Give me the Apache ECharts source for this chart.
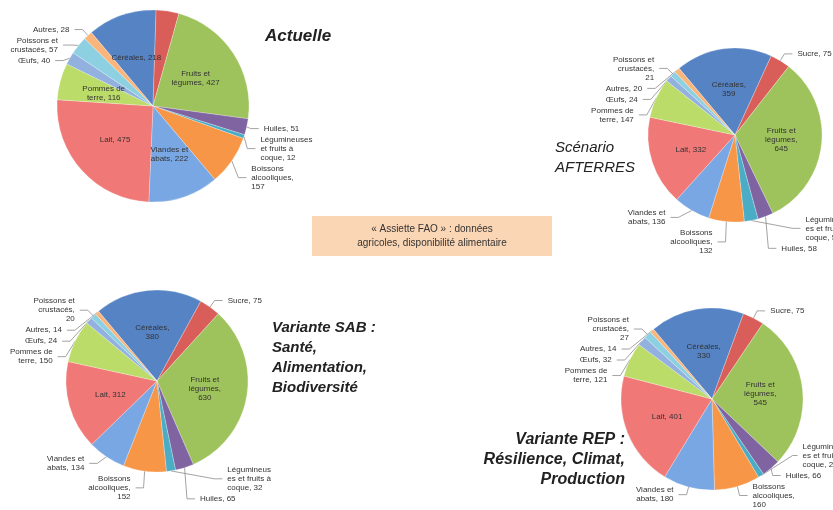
<!DOCTYPE html>
<html><head><meta charset="utf-8">
<script src="https://cdn.jsdelivr.net/npm/echarts@6/dist/echarts.min.js"></script>
<style>html,body{margin:0;padding:0;background:#fff}#c{width:833px;height:510px}</style>
</head><body><div id="c"></div>
<script>
// Categories (clockwise from the first slice)
const categories = ['Céréales','Sucre','Fruits et légumes','Huiles','Légumineuses et fruits à coque','Boissons alcooliques','Viandes et abats','Lait','Pommes de terre','Œufs','Poissons et crustacés','Autres'];
// Values (g / personne / jour)
const actuelle = [218, 72, 427, 51, 12, 157, 222, 475, 116, 40, 57, 28];
const afterres = [359, 75, 645, 58, 51, 132, 136, 332, 147, 24, 21, 20];
const sab      = [380, 75, 630, 65, 32, 152, 134, 312, 150, 24, 20, 14];
const rep      = [330, 75, 545, 66, 20, 160, 180, 401, 121, 32, 27, 14];

const colors = ['#5583c4','#d95e5a','#9fc35c','#8064a2','#4bacc6','#f79646','#79a7e3','#f07877','#bcdc6a','#93b1df','#8cd0e2','#f9b57c'];

// label layouts: [text template, position]
const T = {
  act: [['Céréales, {c}','in'],[null,'none'],['Fruits et\nlégumes, {c}','in'],['Huiles, {c}','out'],['Légumineuses\net fruits à\ncoque, {c}','out'],['Boissons\nalcooliques,\n{c}','out'],['Viandes et\nabats, {c}','in'],['Lait, {c}','in'],['Pommes de\nterre, {c}','in'],['Œufs, {c}','out'],['Poissons et\ncrustacés, {c}','out'],['Autres, {c}','out']],
  alt: [['Céréales,\n{c}','in'],['Sucre, {c}','out'],['Fruits et\nlégumes,\n{c}','in'],['Huiles, {c}','out'],['Légumineus\nes et fruits à\ncoque, {c}','out'],['Boissons\nalcooliques,\n{c}','out'],['Viandes et\nabats, {c}','out'],['Lait, {c}','in'],['Pommes de\nterre, {c}','out'],['Œufs, {c}','out'],['Poissons et\ncrustacés,\n{c}','out'],['Autres, {c}','out']]
};

function build(values, tpl) {
  return categories.map((name, i) => {
    const [t, pos] = tpl[i];
    const item = { name, value: values[i], itemStyle: { color: colors[i] } };
    if (pos === 'none') {
      item.label = { show: false }; item.labelLine = { show: false };
    } else {
      const text = t.replace('{c}', values[i]);
      item.label = { show: true, position: pos === 'in' ? 'inside' : 'outside', formatter: text };
      if (pos === 'out') { item.label.width = 56; item.label.overflow = 'none'; }
      item.labelLine = { show: pos === 'out' };
    }
    return item;
  });
}

function pie(values, tpl, center, r) {
  return {
    type: 'pie', center, radius: r, startAngle: 130, clockwise: true,
    avoidLabelOverlap: true, animation: false,
    itemStyle: { borderColor: 'rgba(255,255,255,0.5)', borderWidth: 0.5 },
    label: { fontSize: 8, lineHeight: 9, color: '#333', fontFamily: 'Liberation Sans, Arial', align: 'center', bleedMargin: 0 },
    labelLine: { length: 8, length2: 8, lineStyle: { color: '#8c8c8c', width: 0.8 } },
    emphasis: { disabled: true },
    data: build(values, tpl)
  };
}

const chart = echarts.init(document.getElementById('c'), null, { renderer: 'canvas' });
const titleStyle = { fontFamily: 'Liberation Sans, Arial', fontStyle: 'italic', fontWeight: 'bold', fontSize: 16, fill: '#222', lineHeight: 20 };
function t(extra) { return Object.assign({}, titleStyle, extra); }
chart.setOption({
  backgroundColor: '#fff',
  animation: false,
  series: [
    pie(actuelle, T.act, [153, 106], 96),
    pie(afterres, T.alt, [735, 135], 87),
    pie(sab, T.alt, [157, 381], 91),
    pie(rep, T.alt, [712, 399], 91)
  ],
  graphic: [
    { type: 'text', left: 265, top: 26, style: t({ text: 'Actuelle', fontSize: 17 }) },
    { type: 'text', left: 555, top: 138, style: t({ text: 'Scénario\nAFTERRES', fontWeight: 'normal', fontSize: 15 }) },
    { type: 'text', left: 272, top: 318, style: t({ text: 'Variante SAB :\nSanté,\nAlimentation,\nBiodiversité', fontSize: 15 }) },
    { type: 'text', right: 208, top: 430, style: t({ text: 'Variante REP :' }) },
    { type: 'text', right: 208, top: 450, style: t({ text: 'Résilience, Climat,' }) },
    { type: 'text', right: 208, top: 470, style: t({ text: 'Production' }) },
    { type: 'rect', left: 312, top: 216, shape: { width: 240, height: 40 }, style: { fill: '#fbd6b4' },
      textContent: { style: { text: '« Assiette FAO » : données\nagricoles, disponibilité alimentaire', align: 'center', fontSize: 10, lineHeight: 14, fill: '#333', fontFamily: 'Liberation Sans, Arial' } },
      textConfig: { position: 'inside' } }
  ]
});
</script></body></html>
